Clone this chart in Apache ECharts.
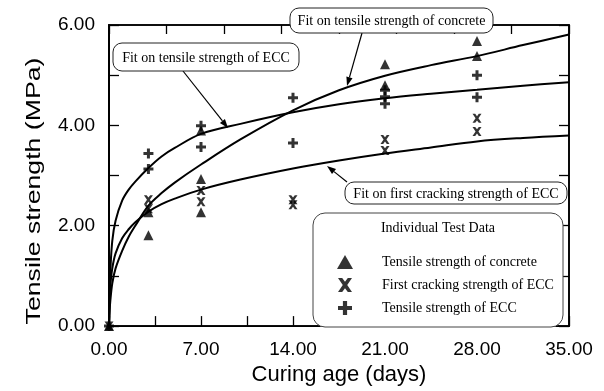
<!DOCTYPE html>
<html><head><meta charset="utf-8">
<script src="https://cdn.jsdelivr.net/npm/echarts@6/dist/echarts.min.js"></script>
<style>html,body{margin:0;padding:0;background:#fff}#c{width:604px;height:391px}</style>
</head><body><div id="c"></div>
<script>
// ---- data ----
const concreteDays = [0, 3, 3, 7, 7, 7, 21, 21, 28, 28];
const concreteVals = [0, 1.81, 2.27, 3.90, 2.93, 2.27, 5.22, 4.80, 5.68, 5.38];
const crackDays = [0, 3, 3, 7, 7, 14, 14, 21, 21, 28, 28];
const crackVals = [0, 2.52, 2.34, 2.70, 2.48, 2.52, 2.42, 3.72, 3.50, 4.14, 3.88];
const eccDays = [0, 3, 3, 7, 7, 14, 14, 21, 21, 21, 28, 28];
const eccVals = [0, 3.44, 3.13, 3.99, 3.57, 4.55, 3.65, 4.70, 4.57, 4.43, 5.00, 4.56];

const fitDays = [0, 0.05, 0.1, 0.25, 0.5, 1, 1.5, 2, 3, 4, 5, 7, 10, 14, 17.5, 21, 24.5, 28, 31.5, 35];
const fitEcc = [0, 0.75, 1.1, 1.7, 2.1, 2.5, 2.72, 2.88, 3.15, 3.38, 3.55, 3.83, 4.03, 4.26, 4.42, 4.54, 4.63, 4.71, 4.79, 4.86];
const fitConcrete = [0, 0.3, 0.5, 0.85, 1.15, 1.5, 1.78, 2.0, 2.4, 2.65, 2.86, 3.22, 3.72, 4.3, 4.7, 4.99, 5.2, 5.38, 5.6, 5.81];
const fitCrack = [0, 0.55, 0.8, 1.15, 1.45, 1.75, 1.93, 2.07, 2.28, 2.43, 2.54, 2.72, 2.92, 3.14, 3.3, 3.44, 3.56, 3.68, 3.75, 3.8];

const xMin = 0, xMax = 35, xStep = 3.5, xLabelStep = 7, xTopStep = 4.375;
const yMin = 0, yMax = 6, yStep = 1, yLabelStep = 2;

const seriesNames = ['Tensile strength of concrete', 'First cracking strength of ECC', 'Tensile strength of ECC'];
const fitNames = ['Fit on tensile strength of ECC', 'Fit on tensile strength of concrete', 'Fit on first cracking strength of ECC'];
const xTitle = 'Curing age (days)';
const yTitle = 'Tensile strength (MPa)';
const legendTitle = 'Individual Test Data';

// ---- rendering ----
const pairs = (xs, ys) => xs.map((x, i) => [x, ys[i]]);
const X_PATH = 'path://M0,0L3,0L5,2.6L7,0L10,0L6.6,5L10,10L7,10L5,7.4L3,10L0,10L3.4,5Z';
const PLUS_PATH = 'path://M3.5,0H6.5V3.5H10V6.5H6.5V10H3.5V6.5H0V3.5H3.5Z';
const SANS = 'Liberation Sans';
const SERIF = 'Liberation Serif';

const chart = echarts.init(document.getElementById('c'));

function box(x, y, w, h, text) {
  return [
    {type: 'rect', z: 100, shape: {x, y, width: w, height: h, r: 9},
     style: {fill: '#fff', stroke: '#222', lineWidth: 1}},
    {type: 'text', z: 101, style: {x: x + w / 2, y: y + h / 2 + 1, text, fill: '#000',
     font: '14px "' + SERIF + '"', textAlign: 'center', textVerticalAlign: 'middle'}}
  ];
}
function arrow(x1, y1, x2, y2) {
  const a = Math.atan2(y2 - y1, x2 - x1), L = 9, W = 3.2;
  const bx = x2 - L * Math.cos(a), by = y2 - L * Math.sin(a);
  const px = -Math.sin(a) * W, py = Math.cos(a) * W;
  return [
    {type: 'line', z: 100, shape: {x1, y1, x2: bx, y2: by}, style: {stroke: '#000', lineWidth: 1.2}},
    {type: 'polygon', z: 100, shape: {points: [[x2, y2], [bx + px, by + py], [bx - px, by - py]]},
     style: {fill: '#000'}}
  ];
}

const line = w => ({show: true, onZero: false, lineStyle: {color: '#000', width: w}});
const tick = len => ({show: true, inside: true, length: len, lineStyle: {color: '#000', width: 1.3}});
const option = {
  animation: false,
  backgroundColor: '#fff',
  grid: {left: 109, right: 35, top: 25, bottom: 57, containLabel: false},
  xAxis: [{
    type: 'value', min: xMin, max: xMax, interval: xStep, position: 'bottom',
    axisLine: line(1.6), axisTick: tick(10),
    axisLabel: {margin: 14, color: '#000', fontFamily: SANS, fontSize: 19,
      formatter: v => (Math.abs(v % xLabelStep) < 1e-6 ? v.toFixed(2) : '')},
    splitLine: {show: false},
    name: xTitle, nameLocation: 'middle', nameGap: 35,
    nameTextStyle: {color: '#000', fontFamily: SANS, fontSize: 22}
  }, {
    type: 'value', min: xMin, max: xMax, interval: xTopStep, position: 'top',
    axisLine: line(1.6), axisTick: tick(9),
    axisLabel: {show: false}, splitLine: {show: false}
  }],
  yAxis: [{
    type: 'value', min: yMin, max: yMax, interval: yStep, position: 'left',
    axisLine: line(2), axisTick: tick(10),
    axisLabel: {margin: 14, color: '#000', fontFamily: SANS, fontSize: 19,
      formatter: v => (Math.abs(v % yLabelStep) < 1e-6 ? v.toFixed(2) : '')},
    splitLine: {show: false}
  }, {
    type: 'value', min: yMin, max: yMax, interval: yStep, position: 'right',
    axisLine: line(1.6), axisTick: tick(10),
    axisLabel: {show: false}, splitLine: {show: false}
  }],
  legend: {
    orient: 'vertical', left: 332, top: 250, itemWidth: 16, itemHeight: 14, itemGap: 9,
    z: 110,
    textStyle: {fontFamily: SERIF, fontSize: 14, color: '#000', padding: [0, 0, 0, 24]},
    data: [
      {name: seriesNames[0], icon: 'triangle'},
      {name: seriesNames[1], icon: X_PATH},
      {name: seriesNames[2], icon: PLUS_PATH}
    ]
  },
  series: [
    {type: 'line', name: fitNames[0], data: pairs(fitDays, fitEcc), showSymbol: false, smooth: 0.35,
     lineStyle: {color: '#000', width: 2}},
    {type: 'line', name: fitNames[1], data: pairs(fitDays, fitConcrete), showSymbol: false, smooth: 0.35,
     lineStyle: {color: '#000', width: 2}},
    {type: 'line', name: fitNames[2], data: pairs(fitDays, fitCrack), showSymbol: false, smooth: 0.35,
     lineStyle: {color: '#000', width: 2}},
    {type: 'scatter', name: seriesNames[0], data: pairs(concreteDays, concreteVals), symbol: 'triangle',
     symbolSize: 10, itemStyle: {color: '#000'}, clip: false,
     markArea: {silent: true, itemStyle: {color: 'rgba(0,0,0,0)', borderColor: '#000', borderWidth: 1.6},
       data: [[{coord: [xMin, yMin]}, {coord: [xMax, yMax]}]]}},
    {type: 'scatter', name: seriesNames[1], data: pairs(crackDays, crackVals), symbol: X_PATH,
     symbolSize: 9, itemStyle: {color: '#000'}, clip: false},
    {type: 'scatter', name: seriesNames[2], data: pairs(eccDays, eccVals), symbol: PLUS_PATH,
     symbolSize: 10, itemStyle: {color: '#000'}, clip: false}
  ],
  graphic: [].concat(
    {type: 'text', z: 101, x: 34, y: 191, rotation: Math.PI / 2, scaleX: 1.27, scaleY: 1,
     style: {text: yTitle, fill: '#000', font: '21px "' + SANS + '"', textAlign: 'center', textVerticalAlign: 'middle'}},
    {type: 'rect', z: 90, shape: {x: 313, y: 213, width: 250, height: 114, r: 12},
     style: {fill: '#fff', stroke: '#444', lineWidth: 1}},
    {type: 'text', z: 101, style: {x: 438, y: 228, text: legendTitle, fill: '#000',
     font: '14px "' + SERIF + '"', textAlign: 'center', textVerticalAlign: 'middle'}},
    arrow(183, 71, 228, 128),
    arrow(362, 33, 347, 86),
    arrow(347, 182, 327, 166),
    box(113, 43, 186, 28, fitNames[0]),
    box(290, 8, 203, 25, fitNames[1]),
    box(345, 182, 222, 22, fitNames[2])
  )
};
chart.setOption(option);
</script></body></html>
